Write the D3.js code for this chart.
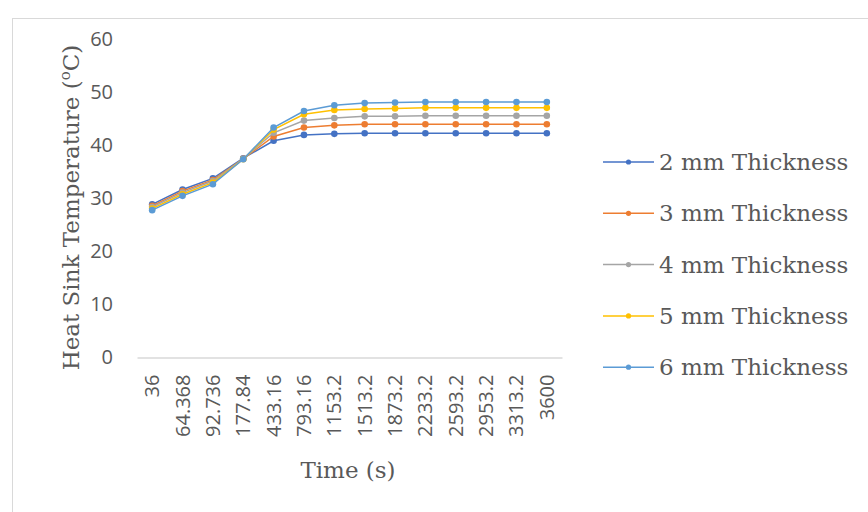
<!DOCTYPE html>
<html><head><meta charset="utf-8">
<script src="https://cdn.jsdelivr.net/npm/d3@7"></script>
<style>body{margin:0;background:#fff}svg{display:block}</style>
</head><body>
<script>
const categories = ["36","64.368","92.736","177.84","433.16","793.16","1153.2","1513.2","1873.2","2233.2","2593.2","2953.2","3313.2","3600"];
const seriesNames = ["2 mm Thickness","3 mm Thickness","4 mm Thickness","5 mm Thickness","6 mm Thickness"];
const t2 = [28.9,31.7,33.8,37.6,40.9,42.0,42.2,42.3,42.3,42.3,42.3,42.3,42.3,42.3];
const t3 = [28.6,31.4,33.5,37.5,41.7,43.4,43.8,44.0,44.0,44.0,44.0,44.0,44.0,44.0];
const t4 = [28.4,31.1,33.3,37.5,42.4,44.7,45.2,45.5,45.5,45.6,45.6,45.6,45.6,45.6];
const t5 = [28.1,30.8,33.0,37.4,43.0,45.9,46.7,46.9,47.0,47.1,47.1,47.1,47.1,47.1];
const t6 = [27.8,30.5,32.7,37.4,43.4,46.5,47.6,48.0,48.1,48.2,48.2,48.2,48.2,48.2];
const yTicks = [0,10,20,30,40,50,60];
const colors = ["#4472C4","#ED7D31","#A5A5A5","#FFC000","#5B9BD5"];
const seriesValues = [t2,t3,t4,t5,t6];

const W = 868, H = 512;
const svg = d3.select("body").append("svg").attr("width", W).attr("height", H);
svg.append("rect").attr("x",12.5).attr("y",18.5).attr("width",W).attr("height",H)
  .attr("fill","none").attr("stroke","#D9D9D9").attr("stroke-width",1);

const x = d3.scaleBand().domain(categories).range([137, 562]);
const y = d3.scaleLinear().domain([0,60]).range([357.5, 39.5]);
const sans = "'Open Sans', sans-serif";
const serif = "'DejaVu Serif', serif";
const txt = "#595959";

// y axis labels
const yAxis = svg.append("g").attr("transform","translate(113,0)")
  .call(d3.axisLeft(y).tickValues(yTicks).tickSize(0).tickPadding(0));
yAxis.select(".domain").remove();
yAxis.selectAll("text").attr("font-family",sans).attr("font-size",20).attr("fill",txt);

// x axis
const xAxis = svg.append("g").attr("transform","translate(0,357.5)")
  .call(d3.axisBottom(x).tickSize(0).tickPadding(0));
xAxis.select(".domain").attr("stroke","#D9D9D9").attr("stroke-width",1.3);
xAxis.selectAll("text").attr("font-family",sans).attr("font-size",20).attr("fill",txt)
  .attr("transform","translate(0,17) rotate(-90)")
  .attr("text-anchor","end").attr("dy","0.35em").attr("y",0).attr("x",0);

// titles
svg.append("text").attr("transform","translate(79,207.5) rotate(-90)")
  .attr("text-anchor","middle").attr("font-family",serif).attr("font-size",23).attr("fill",txt)
  .html('Heat Sink Temperature (<tspan baseline-shift="super" font-size="15">o</tspan>C)');
svg.append("text").attr("x",348).attr("y",478).attr("text-anchor","middle")
  .attr("font-family",serif).attr("font-size",23).attr("fill",txt).text("Time (s)");

// lines
const line = d3.line().x((d,i)=>x(categories[i])+x.bandwidth()/2).y(d=>y(d));
seriesValues.forEach((vals,k)=>{
  const g = svg.append("g");
  g.append("path").attr("d",line(vals)).attr("fill","none").attr("stroke",colors[k]).attr("stroke-width",1.5);
  g.selectAll("circle").data(vals).join("circle")
    .attr("cx",(d,i)=>x(categories[i])+x.bandwidth()/2).attr("cy",d=>y(d))
    .attr("r",3.3).attr("fill",colors[k]);
});

// legend
const lg = svg.append("g");
seriesNames.forEach((name,k)=>{
  const yy = 162 + k*51.3;
  lg.append("line").attr("x1",603).attr("x2",654).attr("y1",yy).attr("y2",yy).attr("stroke",colors[k]).attr("stroke-width",1.5);
  lg.append("circle").attr("cx",628.5).attr("cy",yy).attr("r",2.6).attr("fill",colors[k]);
  lg.append("text").attr("x",659).attr("y",yy).attr("dy","0.35em").attr("font-family",serif)
    .attr("font-size",23).attr("fill",txt).text(name);
});
</script>
</body></html>
